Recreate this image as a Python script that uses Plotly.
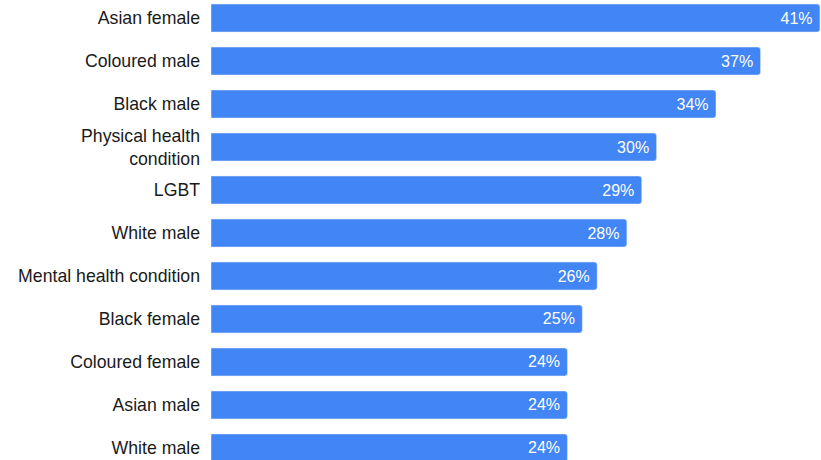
import plotly.graph_objects as go

categories = ["Asian female", "Coloured male", "Black male", "Physical health<br>condition",
              "LGBT", "White male", "Mental health condition", "Black female",
              "Coloured female", "Asian male", "White male"]
values = [41, 37, 34, 30, 29, 28, 26, 25, 24, 24, 24]
text_labels = [f"{v}%\u00a0" for v in values]

positions = list(range(len(categories)))

fig = go.Figure(go.Bar(
    x=values,
    y=positions,
    orientation="h",
    marker=dict(color="#4285F4", cornerradius=3),
    text=text_labels,
    textposition="inside",
    insidetextanchor="end",
    textfont=dict(color="white", size=16, family="Liberation Sans, Arial, sans-serif"),
    hoverinfo="skip",
))

fig.update_layout(
    width=821, height=460,
    margin=dict(l=211, r=0, t=0, b=0),
    paper_bgcolor="white", plot_bgcolor="white",
    bargap=0.35,
    showlegend=False,
    font=dict(family="Liberation Sans, Arial, sans-serif", size=16, color="#222222"),
)
fig.update_xaxes(range=[0, 41.07], visible=False, showgrid=False, zeroline=False)
fig.update_yaxes(
    tickmode="array", tickvals=positions, ticktext=categories,
    range=[10.28, -0.42], showgrid=False, zeroline=False, showline=False,
    ticks="", ticklabelstandoff=10, automargin=False,
    tickfont=dict(size=17.7, color="#1a1a1a"),
)

fig.write_html("out.html", config={"displayModeBar": False},
               post_script="document.body.style.margin='0';document.body.style.overflow='hidden';")
